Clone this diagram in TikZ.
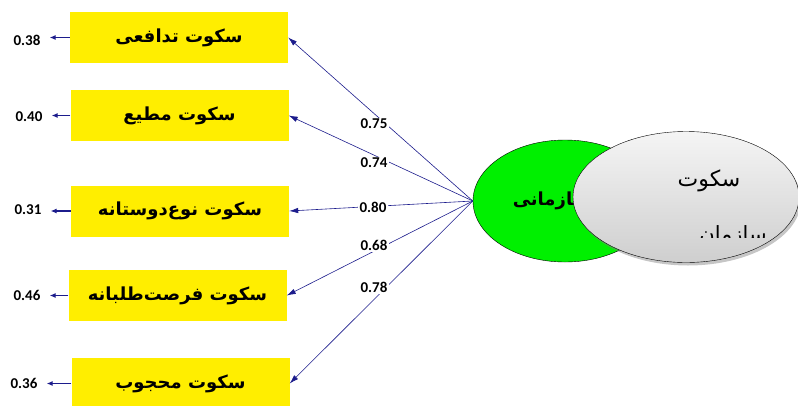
\documentclass[tikz,border=0pt]{standalone}
\usepackage{fontspec}
\usepackage{xcolor}
\usepackage{tikz}
\usetikzlibrary{shapes,arrows.meta,positioning,calc,shadows}
\setmainfont{Carlito}
\newfontfamily\arabicfont[Script=Arabic]{DejaVu Sans}
\TeXXeTstate=1
\definecolor{boxyellow}{RGB}{255,238,0}
\definecolor{pathblue}{RGB}{28,28,140}
\definecolor{latgreen}{RGB}{0,240,0}

\begin{document}
\begin{tikzpicture}[
    x=1pt, y=-1pt,
    indicator/.style={rectangle, fill=boxyellow, minimum width=218pt, minimum height=51pt, inner sep=0pt, font=\arabicfont\bfseries\fontsize{18}{21}\selectfont},
    error/.style={font=\bfseries\fontsize{15}{17}\selectfont, inner sep=1pt},
    loading/.style={fill=white, font=\bfseries\fontsize{15}{17}\selectfont, inner sep=1.5pt},
    latent/.style={ellipse, draw, thin, inner sep=0pt},
    arrow/.style={-{Latex[length=9pt,width=5.5pt]}, pathblue, line width=0.6pt},
    errarrow/.style={-{Latex[length=6pt,width=5pt]}, pathblue, line width=1.4pt}
]
\useasboundingbox (0,0) rectangle (798,405);

\node[indicator] (box1) at (179,37.5) {\beginR سکوت تدافعی\endR};
\node[indicator] (box2) at (179.5,115.5) {\beginR سکوت مطیع\endR};
\node[indicator] (box3) at (180,211) {\beginR سکوت نوع‌دوستانه\endR};
\node[indicator] (box4) at (177.5,295.5) {\beginR سکوت فرصت‌طلبانه\endR};
\node[indicator] (box5) at (180.5,383.5) {\beginR سکوت محجوب\endR};

\node[error] (err1) at (27,40) {0.38};
\node[error] (err2) at (29,117) {0.40};
\node[error] (err3) at (28,210) {0.31};
\node[error] (err4) at (27,295) {0.46};
\node[error] (err5) at (24,383) {0.36};

% latent variable
\node[latent, fill=latgreen, minimum width=184pt, minimum height=122pt] (lat) at (565,201) {};
\node[anchor=east, font=\arabicfont\bfseries\fontsize{18}{20}\selectfont] (latname) at (594,201) {\beginR سازمانی\endR};
\node[latent, top color=gray!8, bottom color=gray!38, minimum width=226pt, minimum height=131pt,
      drop shadow={opacity=0.45, shadow xshift=2pt, shadow yshift=-3pt}] (lat2) at (686,197) {};
\node[font=\arabicfont\fontsize{22}{24}\selectfont] (lat2a) at (709,181) {\beginR سکوت\endR};
\begin{scope}
\clip (680,210) rectangle (775,237);
\node[font=\arabicfont\fontsize{21}{23}\selectfont] (lat2b) at (733,236) {\beginR سازمان\endR};
\end{scope}

\foreach \i in {1,...,5} {
    \draw[errarrow] (box\i.west) -- (box\i.west -| err\i.east) [shorten >=8pt];
    \draw[arrow] (lat.west) -- (box\i.east);
}

\node[loading] (l1) at (374,124) {0.75};
\node[loading] (l2) at (374,163) {0.74};
\node[loading] (l3) at (373,207) {0.80};
\node[loading] (l4) at (374,245) {0.68};
\node[loading] (l5) at (374,287) {0.78};

\end{tikzpicture}
\end{document}
